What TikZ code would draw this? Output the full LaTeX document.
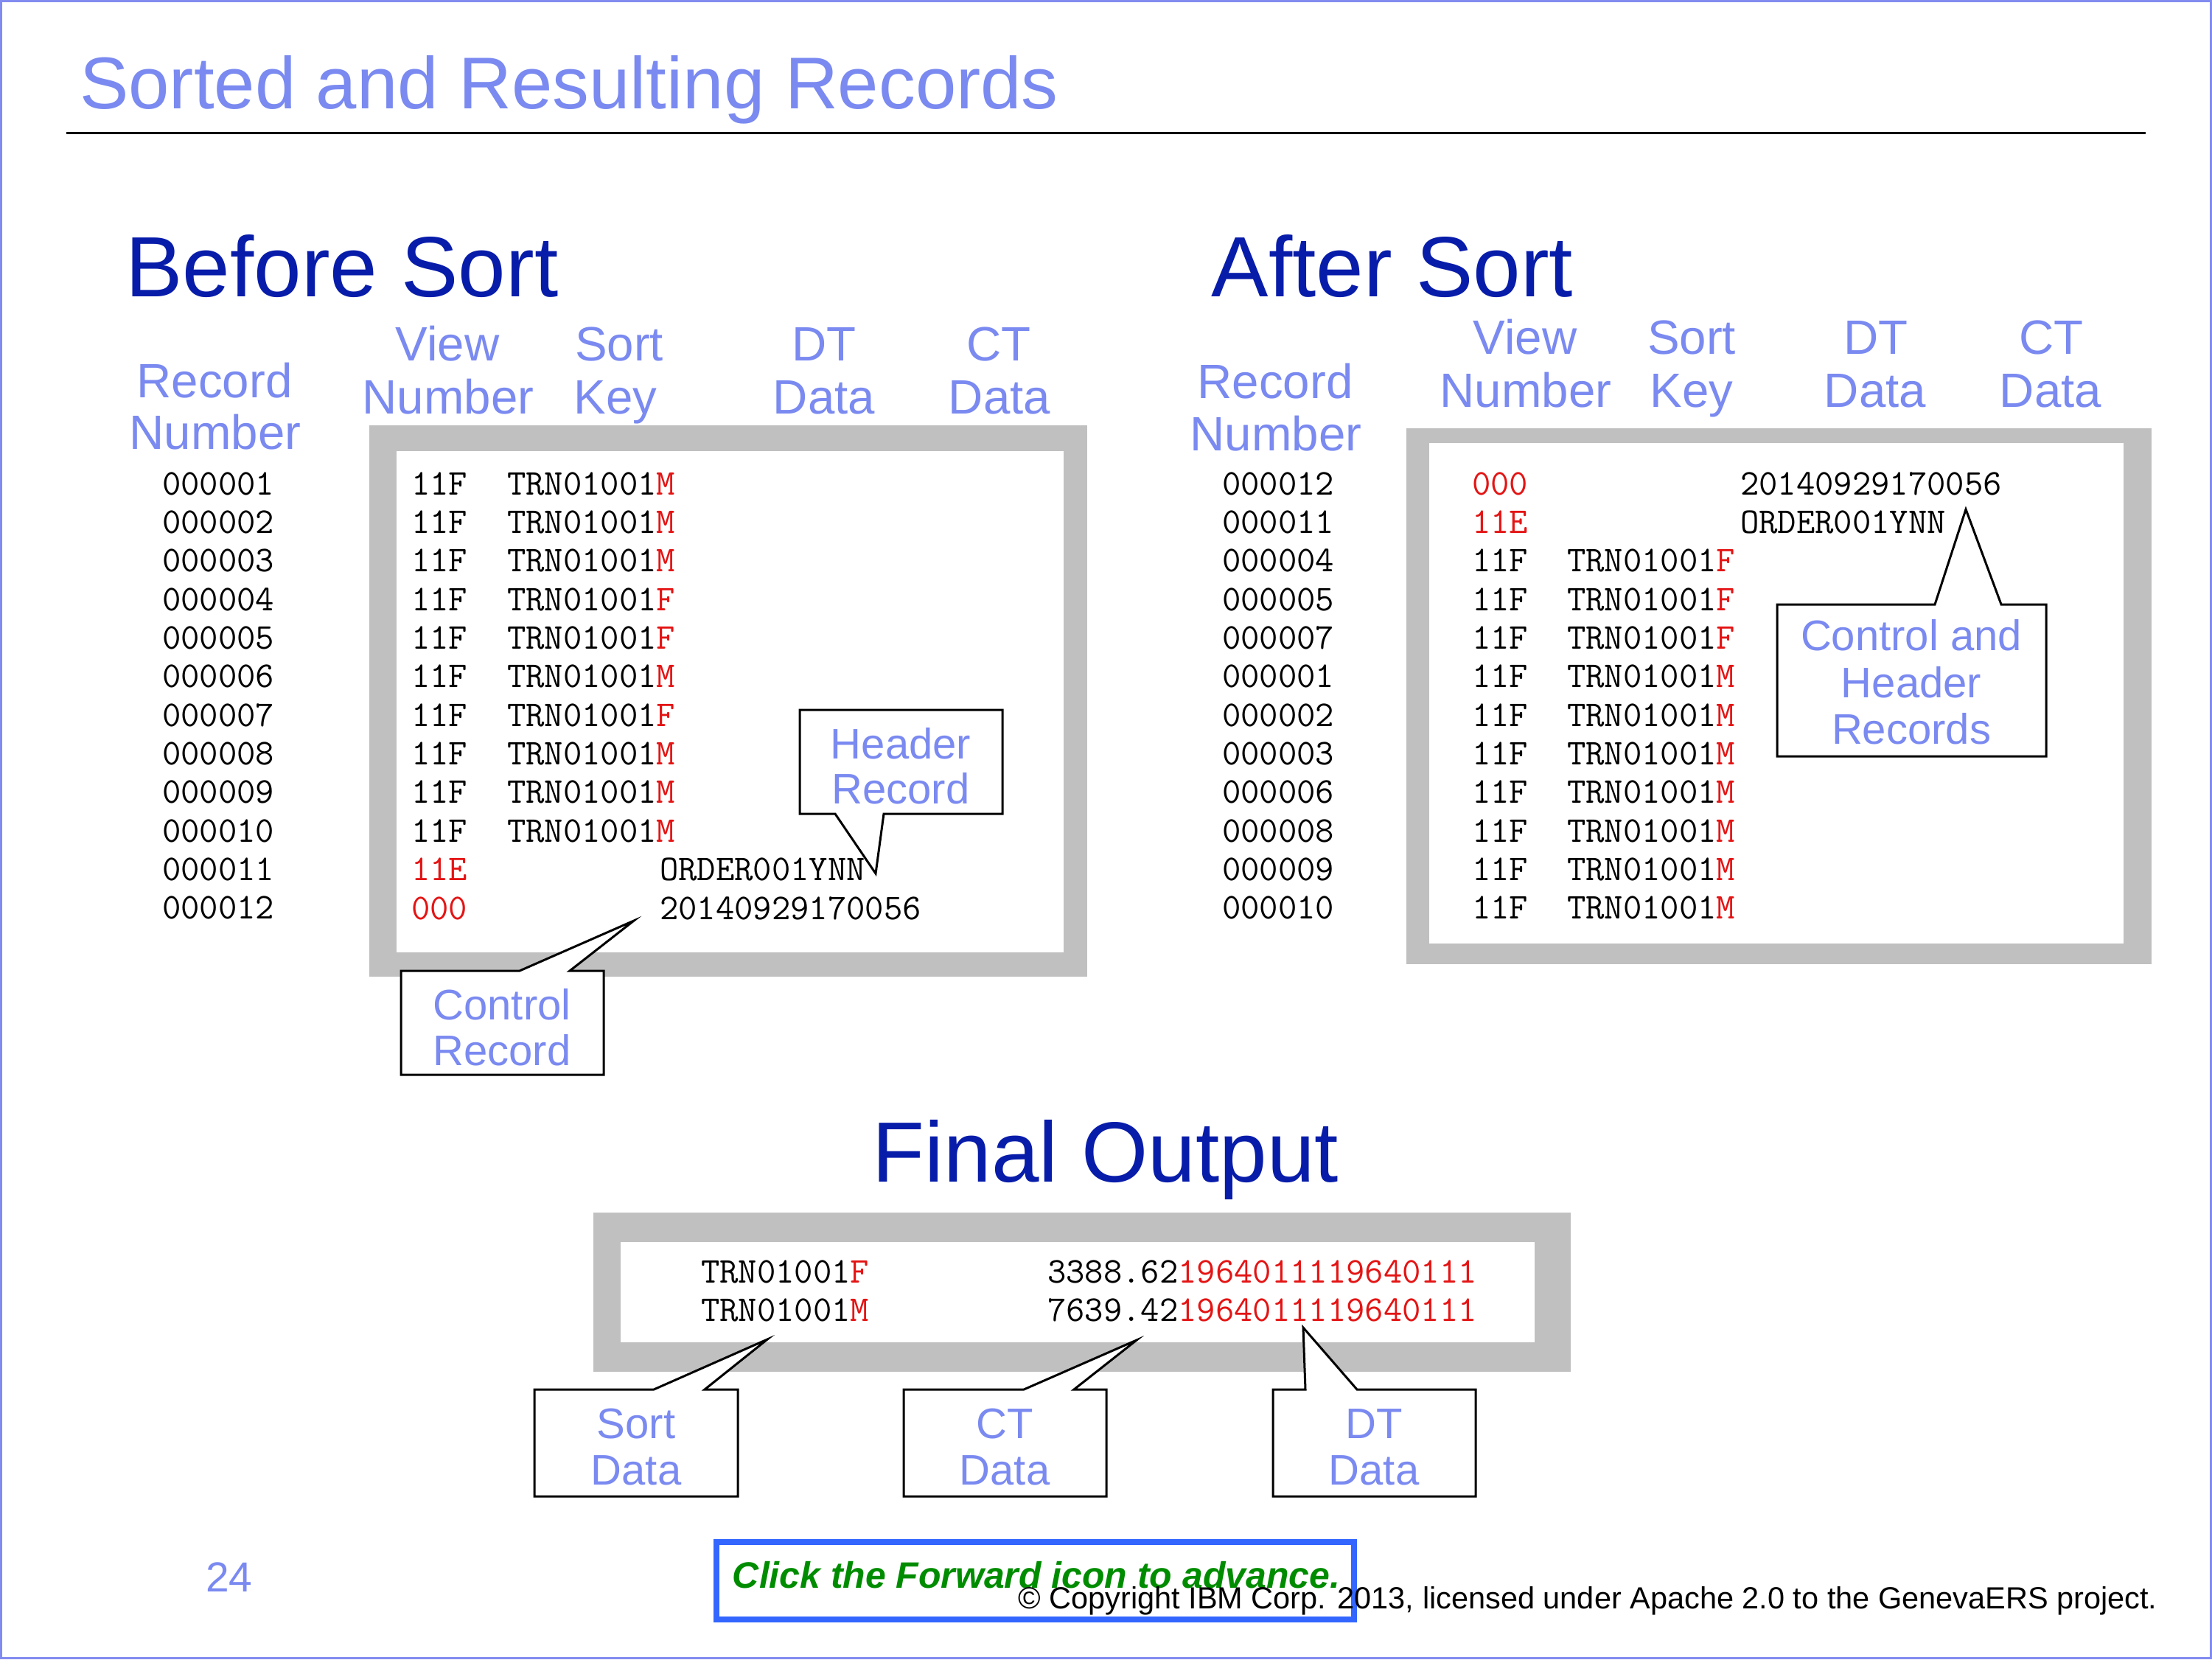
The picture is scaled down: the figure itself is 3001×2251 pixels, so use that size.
\documentclass[tikz,border=0pt]{standalone}
\usepackage{fontspec}
\setmainfont{Liberation Sans}
\definecolor{lblue}{RGB}{122,138,240}
\definecolor{dblue}{RGB}{8,28,170}
\definecolor{myred}{RGB}{228,20,20}
\definecolor{boxgray}{RGB}{192,192,192}
\definecolor{mygreen}{RGB}{0,140,0}
\definecolor{btnblue}{RGB}{51,102,255}
\definecolor{frameblue}{RGB}{130,140,240}
\begin{document}
\begin{tikzpicture}[x=0.01cm,y=-0.01cm,
  every node/.style={inner sep=0pt,outer sep=0pt},
  titletext/.style={font=\fontsize{28.3}{30}\selectfont,text=lblue,anchor=base},
  bigtext/.style={font=\fontsize{33}{36}\selectfont,text=dblue,anchor=base},
  hdr/.style={font=\fontsize{18.6}{20}\selectfont,text=lblue,anchor=base},
  cltext/.style={font=\fontsize{16.5}{18}\selectfont,text=lblue,anchor=base},
  mono/.style={font=\ttfamily\fontsize{14.0}{16}\selectfont,anchor=base west},
  callout/.style={draw=black,fill=white,line width=0.854pt,line join=miter},
  thinline/.style={line width=0.854pt}]
\useasboundingbox (0,0) rectangle (3001,2251);
% slide frame
\draw[frameblue,line width=0.854pt] (1.5,1.5) rectangle (2999.5,2249.5);
% title
\node[titletext] (title) at (772,147) {Sorted and Resulting Records};
\draw[thinline] (90,180) -- (2911,180);
% section titles
\node[bigtext] (before) at (464,402) {Before Sort};
\node[bigtext] (after) at (1889,402) {After Sort};
\node[bigtext] (final) at (1500,1603) {Final Output};
% before headers
\node[hdr] (bh1a) at (291,539) {Record};
\node[hdr] (bh1b) at (292,609) {Number};
\node[hdr] (bh2a) at (607,489) {View};
\node[hdr] (bh2b) at (608,561) {Number};
\node[hdr] (bh3a) at (840,489) {Sort};
\node[hdr] (bh3b) at (835,561) {Key};
\node[hdr] (bh4a) at (1118,489) {DT};
\node[hdr] (bh4b) at (1118,561) {Data};
\node[hdr] (bh5a) at (1355,489) {CT};
\node[hdr] (bh5b) at (1356,561) {Data};
% after headers
\node[hdr] (ah1a) at (1730,540) {Record};
\node[hdr] (ah1b) at (1731,611) {Number};
\node[hdr] (ah2a) at (2069,480) {View};
\node[hdr] (ah2b) at (2070,552) {Number};
\node[hdr] (ah3a) at (2295,480) {Sort};
\node[hdr] (ah3b) at (2295,552) {Key};
\node[hdr] (ah4a) at (2545,480) {DT};
\node[hdr] (ah4b) at (2544,552) {Data};
\node[hdr] (ah5a) at (2783,480) {CT};
\node[hdr] (ah5b) at (2782,552) {Data};
% gray frames
\fill[boxgray] (501,577) rectangle (1475,1325);
\fill[white] (538,612) rectangle (1443,1292);
\fill[boxgray] (1908,581) rectangle (2919,1308);
\fill[white] (1939,601) rectangle (2881,1280);
\fill[boxgray] (805,1645) rectangle (2131,1861);
\fill[white] (842,1685) rectangle (2082,1821);
% before rows
\foreach \i/\r in {1/000001,2/000002,3/000003,4/000004,5/000005,6/000006,7/000007,8/000008,9/000009,10/000010,11/000011,12/000012}{
  \node[mono] (brn\i) at (220,{671+52.36*(\i-1)}) {\r};
}
\foreach \i/\k in {1/M,2/M,3/M,4/F,5/F,6/M,7/F,8/M,9/M,10/M}{
  \node[mono] (bvn\i) at (558,{671+52.36*(\i-1)}) {11F};
  \node[mono] (bsk\i) at (688,{671+52.36*(\i-1)}) {TRN01001\textcolor{myred}{\k}};
}
\node[mono,text=myred] (bvn11) at (558,1194.6) {11E};
\node[mono] (bdt11) at (895,1194.6) {ORDER001YNN};
\node[mono,text=myred] (bvn12) at (558,1247) {000};
\node[mono] (bdt12) at (895,1247) {20140929170056};
% after rows
\foreach \i/\r in {1/000012,2/000011,3/000004,4/000005,5/000007,6/000001,7/000002,8/000003,9/000006,10/000008,11/000009,12/000010}{
  \node[mono] (arn\i) at (1658,{671+52.36*(\i-1)}) {\r};
}
\node[mono,text=myred] (avn1) at (1997,671) {000};
\node[mono] (adt1) at (2361,671) {20140929170056};
\node[mono,text=myred] (avn2) at (1997,723.4) {11E};
\node[mono] (adt2) at (2361,723.4) {ORDER001YNN};
\foreach \i/\k in {3/F,4/F,5/F,6/M,7/M,8/M,9/M,10/M,11/M,12/M}{
  \node[mono] (avn\i) at (1997,{671+52.36*(\i-1)}) {11F};
  \node[mono] (ask\i) at (2126,{671+52.36*(\i-1)}) {TRN01001\textcolor{myred}{\k}};
}
% final output rows
\node[mono] (fs1) at (951,1740) {TRN01001\textcolor{myred}{F}};
\node[mono] (fd1) at (1421,1740) {3388.62\textcolor{myred}{1964011119640111}};
\node[mono] (fs2) at (951,1792) {TRN01001\textcolor{myred}{M}};
\node[mono] (fd2) at (1421,1792) {7639.42\textcolor{myred}{1964011119640111}};
% callouts
\draw[callout] (1085,963) -- (1360,963) -- (1360,1104) -- (1199,1104) -- (1188,1185) -- (1133,1104) -- (1085,1104) -- cycle;
\node[cltext] (chr1) at (1222,1029) {Header};
\node[cltext] (chr2) at (1222,1090) {Record};
\draw[callout] (544,1317) -- (705,1317) -- (860,1249) -- (773,1317) -- (819,1317) -- (819,1458) -- (544,1458) -- cycle;
\node[cltext] (ccr1) at (681,1383) {Control};
\node[cltext] (ccr2) at (681,1445) {Record};
\draw[callout] (2411,820) -- (2625,820) -- (2667,691) -- (2715,820) -- (2776,820) -- (2776,1026) -- (2411,1026) -- cycle;
\node[cltext] (cch1) at (2593,882) {Control and};
\node[cltext] (cch2) at (2593,946) {Header};
\node[cltext] (cch3) at (2593,1009) {Records};
\draw[callout] (725,1885) -- (887,1885) -- (1041,1817) -- (956,1885) -- (1001,1885) -- (1001,2030) -- (725,2030) -- cycle;
\node[cltext] (csd1) at (863,1951) {Sort};
\node[cltext] (csd2) at (863,2014) {Data};
\draw[callout] (1226,1885) -- (1389,1885) -- (1542,1818) -- (1457,1885) -- (1501,1885) -- (1501,2030) -- (1226,2030) -- cycle;
\node[cltext] (cct1) at (1363,1951) {CT};
\node[cltext] (cct2) at (1363,2014) {Data};
\draw[callout] (1727,1885) -- (1771,1885) -- (1768,1801) -- (1841,1885) -- (2002,1885) -- (2002,2030) -- (1727,2030) -- cycle;
\node[cltext] (cdt1) at (1864,1951) {DT};
\node[cltext] (cdt2) at (1864,2014) {Data};
% footer
\node[font=\fontsize{16.2}{18}\selectfont,text=lblue,anchor=base] (pagenum) at (311,2159) {24};
\draw[btnblue,line width=2.28pt,fill=white] (972,2092) rectangle (1837,2197);
\node[font=\bfseries\itshape\fontsize{14.2}{16}\selectfont,text=mygreen,anchor=base] (click) at (1406,2154) {Click the Forward icon to advance.};
\node[font=\fontsize{11.8}{13}\selectfont,anchor=base] (copy) at (2154,2182) {© Copyright IBM Corp. 2013, licensed under Apache 2.0 to the GenevaERS project.};
\end{tikzpicture}
\end{document}
